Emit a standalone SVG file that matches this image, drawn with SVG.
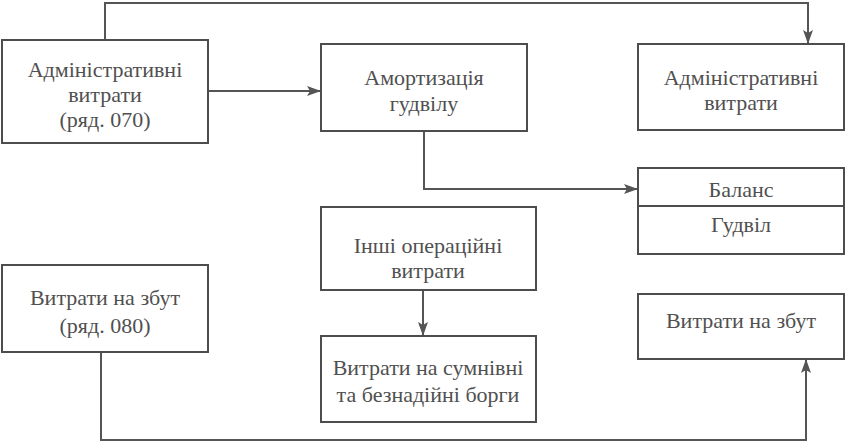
<svg xmlns="http://www.w3.org/2000/svg" width="846" height="443" viewBox="0 0 846 443">
<style>
  .box { fill: #ffffff; stroke: #4d4d4d; stroke-width: 2; }
  .line { fill: none; stroke: #4d4d4d; stroke-width: 2; }
  .conn { fill: none; stroke: #555555; stroke-width: 2; }
  .t { font-family: "Liberation Serif", "DejaVu Serif", serif; font-size: 22px; fill: #505050; text-anchor: middle; }
</style>
<defs>
  <marker id="arrow" markerUnits="userSpaceOnUse" markerWidth="14" markerHeight="10" refX="13" refY="5" orient="auto">
    <path d="M0,0 L14,5 L0,10 L3,5 Z" fill="#555555"/>
  </marker>
</defs>
<rect x="0" y="0" width="846" height="443" fill="#ffffff"/>
<g id="connectors">
  <path class="conn" d="M105,40 V3 H808 V43" marker-end="url(#arrow)"/>
  <path class="conn" d="M208,91 H320" marker-end="url(#arrow)"/>
  <path class="conn" d="M424,131 V189 H637" marker-end="url(#arrow)"/>
  <path class="conn" d="M423,290 V335" marker-end="url(#arrow)"/>
  <path class="conn" d="M101,352 V440 H806 V360" marker-end="url(#arrow)"/>
</g>
<g id="admin-070">
  <rect class="box" x="2" y="40" width="206" height="103"/>
  <text class="t" x="105" y="77">Адміністративні</text>
  <text class="t" x="105" y="102">витрати</text>
  <text class="t" x="105" y="127">(ряд. 070)</text>
</g>
<g id="amort">
  <rect class="box" x="321" y="44" width="206" height="87"/>
  <text class="t" x="424" y="85">Амортизація</text>
  <text class="t" x="424" y="111">гудвілу</text>
</g>
<g id="admin-right">
  <rect class="box" x="638" y="44" width="206" height="86"/>
  <text class="t" x="741" y="85">Адміністративні</text>
  <text class="t" x="741" y="110">витрати</text>
</g>
<g id="balance">
  <rect class="box" x="638" y="168" width="206" height="86"/>
  <line class="line" x1="638" y1="206" x2="844" y2="206"/>
  <text class="t" x="741" y="197">Баланс</text>
  <text class="t" x="741" y="232">Гудвіл</text>
</g>
<g id="other-op">
  <rect class="box" x="321" y="207" width="215" height="83"/>
  <text class="t" x="428" y="253">Інші операційні</text>
  <text class="t" x="428" y="278">витрати</text>
</g>
<g id="doubtful">
  <rect class="box" x="321" y="336" width="215" height="86"/>
  <text class="t" x="428" y="375">Витрати на сумнівні</text>
  <text class="t" x="428" y="402">та безнадійні борги</text>
</g>
<g id="sales-080">
  <rect class="box" x="2" y="265" width="206" height="87"/>
  <text class="t" x="105" y="305">Витрати на збут</text>
  <text class="t" x="105" y="333">(ряд. 080)</text>
</g>
<g id="sales-right">
  <rect class="box" x="638" y="294" width="206" height="65"/>
  <text class="t" x="741" y="328">Витрати на збут</text>
</g>
</svg>
